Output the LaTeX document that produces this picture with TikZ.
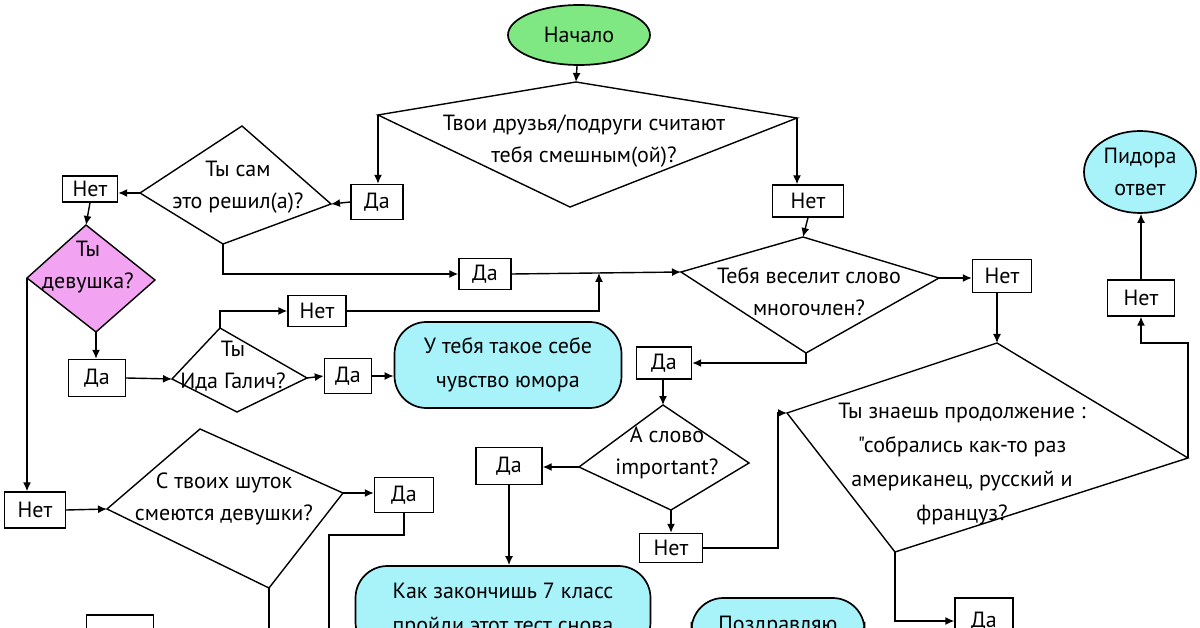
\documentclass[tikz,border=0pt]{standalone}
\usepackage{fontspec}
\setmainfont{PT Sans}[Ligatures=TeXOff]
\usetikzlibrary{shapes.geometric,arrows.meta}
\definecolor{startgreen}{HTML}{80E882}
\definecolor{endblue}{HTML}{A8F2FA}
\definecolor{girlpink}{HTML}{F2A4F2}

\tikzset{
  answer/.style={draw, fill=white, line width=1.4pt, inner sep=0pt,
    font=\fontsize{22}{28}\selectfont},
  blob/.style={draw, line width=1.7pt, fill=endblue, align=center, inner sep=0pt,
    rounded corners=32pt, font=\fontsize{22}{34}\selectfont},
  rhomb/.style={draw, line width=1.4pt, line join=miter},
  qtext/.style={align=center, font=\fontsize{22}{32}\selectfont},
  link/.style={line width=1.4pt, -{Latex[length=9pt,width=8pt]}},
  wire/.style={line width=1.4pt},
}

\begin{document}
\begin{tikzpicture}[x=1pt,y=-1pt]
\useasboundingbox (0,0) rectangle (1200,628);
\clip (0,0) rectangle (1200,628);
\fill[white] (0,0) rectangle (1200,628);

% Start
\node[draw, ellipse, fill=startgreen, line width=1.7pt, minimum width=142pt, minimum height=60pt,
  font=\fontsize{22}{28}\selectfont] (start) at (579,35) {Начало};

% Question corners
\coordinate (q1n) at (576,82);  \coordinate (q1e) at (797,118);
\coordinate (q1s) at (570,207); \coordinate (q1w) at (378,115);
\coordinate (q2n) at (242,126); \coordinate (q2e) at (331,204);
\coordinate (q2s) at (223,244); \coordinate (q2w) at (140,193);
\coordinate (q3n) at (803,237); \coordinate (q3e) at (939,278);
\coordinate (q3s) at (806,353); \coordinate (q3w) at (681,272);
\coordinate (q4n) at (663,405); \coordinate (q4e) at (749,463);
\coordinate (q4s) at (671,510); \coordinate (q4w) at (579,467);
\coordinate (q5n) at (997,343); \coordinate (q5e) at (1188,458);
\coordinate (q5s) at (895,552); \coordinate (q5w) at (787,413);
\coordinate (q6n) at (86,225);  \coordinate (q6e) at (155,280);
\coordinate (q6s) at (96,332);  \coordinate (q6w) at (27,278);
\coordinate (q7n) at (220,328); \coordinate (q7e) at (307,378);
\coordinate (q7s) at (237,412); \coordinate (q7w) at (172,379);
\coordinate (q8n) at (200,429); \coordinate (q8e) at (343,493);
\coordinate (q8s) at (269,588); \coordinate (q8w) at (107,509);

% Questions
\draw[rhomb] (q1n) -- (q1e) -- (q1s) -- (q1w) -- cycle;
\draw[rhomb] (q2n) -- (q2e) -- (q2s) -- (q2w) -- cycle;
\draw[rhomb] (q3n) -- (q3e) -- (q3s) -- (q3w) -- cycle;
\draw[rhomb] (q4n) -- (q4e) -- (q4s) -- (q4w) -- cycle;
\draw[rhomb] (q5n) -- (q5e) -- (q5s) -- (q5w) -- cycle;
\draw[rhomb, fill=girlpink] (q6n) -- (q6e) -- (q6s) -- (q6w) -- cycle;
\draw[rhomb] (q7n) -- (q7e) -- (q7s) -- (q7w) -- cycle;
\draw[rhomb] (q8n) -- (q8e) -- (q8s) -- (q8w) -- cycle;

\node[qtext] (q1) at (584,141) {Твои друзья/подруги считают\\тебя смешным(ой)?};
\node[qtext] (q2) at (238,187) {Ты сам\\это решил(а)?};
\node[qtext] (q3) at (809,292) {Тебя веселит слово\\многочлен?};
\node[qtext] (q4) at (667,453) {А слово\\important?};
\node[qtext, font=\fontsize{22}{34}\selectfont] (q5) at (962,464)
  {Ты знаешь продолжение :\\"собрались как-то раз\\американец, русский и\\француз?};
\node[qtext] (q6) at (88,267) {Ты\\девушка?};
\node[qtext] (q7) at (233,366) {Ты\\Ида Галич?};
\node[qtext] (q8) at (224,499) {С твоих шуток\\смеются девушки?};

% Answers
\node[answer, minimum width=52pt, minimum height=35pt] (b1) at (377,202) {Да};
\node[answer, minimum width=71pt, minimum height=32pt] (b2) at (808,201) {Нет};
\node[answer, minimum width=55pt, minimum height=26pt] (b3) at (90,189) {Нет};
\node[answer, minimum width=52pt, minimum height=31pt] (b4) at (485,274) {Да};
\node[answer, minimum width=59pt, minimum height=33pt] (b5) at (1002,276) {Нет};
\node[answer, minimum width=58pt, minimum height=31pt] (b6) at (317,311) {Нет};
\node[answer, minimum width=57pt, minimum height=37pt] (b7) at (97,378) {Да};
\node[answer, minimum width=47pt, minimum height=35pt] (b8) at (348,376) {Да};
\node[answer, minimum width=55pt, minimum height=32pt] (b9) at (664,363) {Да};
\node[answer, minimum width=66pt, minimum height=37pt] (b10) at (509,466) {Да};
\node[answer, minimum width=63pt, minimum height=29pt] (b11) at (671,548) {Нет};
\node[answer, minimum width=67pt, minimum height=36pt] (b12) at (1141,298) {Нет};
\node[answer, minimum width=61pt, minimum height=36pt] (b13) at (35,510) {Нет};
\node[answer, minimum width=59pt, minimum height=35pt] (b14) at (404,495) {Да};
\node[answer, minimum width=67pt, minimum height=46pt] (b15) at (120,638) {Нет};
\node[answer, minimum width=58pt, minimum height=46pt] (b16) at (984,621) {Да};

% Results
\node[blob, minimum width=227pt, minimum height=86pt] (humor) at (508,365)
  {У тебя такое себе\\чувство юмора};
\node[blob, minimum width=295pt, minimum height=88pt] (again) at (503,610)
  {Как закончишь 7 класс\\пройди этот тест снова};
\node[blob, minimum width=173pt, minimum height=56pt] (congrats) at (778,626) {Поздравляю};
\node[blob, ellipse, rounded corners=0pt, minimum width=112pt, minimum height=82pt,
  font=\fontsize{22}{32}\selectfont] (pidor) at (1140,172) {Пидора\\ответ};

% Connectors
\coordinate (merge) at (599,273);
\coordinate (turn) at (1188,343);
\coordinate (drop) at (329,535);
\draw[link] (start) -- (q1n);
\draw[link] (q1w) -- (b1.north -| q1w);
\draw[link] (q1e) -- (b2.north -| q1e);
\draw[link] (b1.west) -- (q2e);
\draw[link] (q2w) -- (q2w -| b3.east);
\draw[link] (b3.south) -- (q6n);
\draw[link] (q2s) |- (b4.west);
\draw[link] (b4.east) -- (q3w);
\draw[link] (b6.east) -| (merge);
\draw[link] (b2.south) -- (q3n);
\draw[link] (q3e) -- (q3e -| b5.west);
\draw[link] (q3s) |- (b9.east);
\draw[link] (q5n |- b5.south) -- (q5n);
\draw[link] (b9.south -| q4n) -- (q4n);
\draw[link] (q4w) -- (q4w -| b10.east);
\draw[link] (q4s) -- (b11.north -| q4s);
\draw[link] (b11.east) -| ([xshift=-9pt]q5w) -- (q5w);
\draw[link] (b10.south) -- (b10.south |- again.north);
\draw[link] (q5e) -- (turn) -| (b12.south);
\draw[link] (b12.north) -- (b12.north |- pidor.south);
\draw[link] (q5s) |- (b16.west);
\draw[link] (q6s) -- (q6s |- b7.north);
\draw[link] (q6w) -- (q6w |- b13.north);
\draw[link] (b7.east) -- (q7w);
\draw[link] (q7n) |- (b6.west);
\draw[link] (q7e) -- (b8.west);
\draw[link] (b8.east) -- (b8.east -| humor.west);
\draw[link] (b13.east) -- (q8w);
\draw[link] (q8e) -- (q8e -| b14.west);
\draw[wire] (b14.south) |- (drop) -- ++(0,110);
\draw[wire] (q8s) -- ++(0,60);
\end{tikzpicture}
\end{document}
